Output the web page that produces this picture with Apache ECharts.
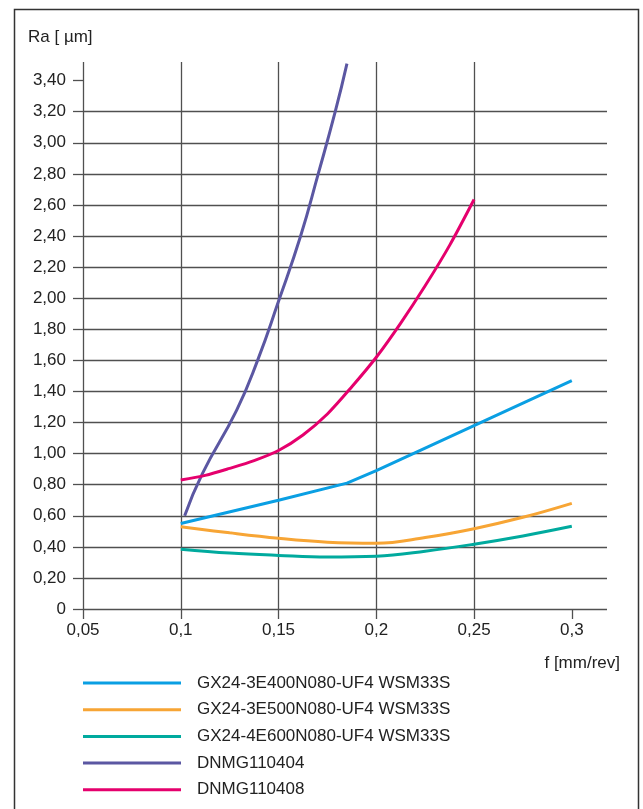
<!DOCTYPE html>
<html>
<head>
<meta charset="utf-8">
<script src="https://cdn.jsdelivr.net/npm/echarts@6/dist/echarts.min.js"></script>
<style>
  html, body { margin: 0; padding: 0; background: #fff; }
  #main { width: 643px; height: 809px; }
</style>
</head>
<body>
<div id="main"></div>
<script>
// tick values
var xTicks = [0.05, 0.1, 0.15, 0.2, 0.25, 0.3];
var yTicks = [0, 0.2, 0.4, 0.6, 0.8, 1.0, 1.2, 1.4, 1.6, 1.8, 2.0, 2.2, 2.4, 2.6, 2.8, 3.0, 3.2, 3.4];

var seriesNames = [
  'GX24-3E400N080-UF4 WSM33S',
  'GX24-3E500N080-UF4 WSM33S',
  'GX24-4E600N080-UF4 WSM33S',
  'DNMG110404',
  'DNMG110408'
];
var seriesColors = ['#0a9fe3', '#f7a535', '#00aa9e', '#5b57a2', '#e5006d'];

// [f, Ra]
var uf4E400 = [[0.1, 0.55], [0.15, 0.70], [0.185, 0.81], [0.2, 0.89], [0.25, 1.18], [0.3, 1.47]];
var uf4E500 = [[0.1, 0.53], [0.125, 0.49], [0.15, 0.455], [0.175, 0.43], [0.2, 0.423], [0.225, 0.46], [0.25, 0.517], [0.275, 0.59], [0.3, 0.68]];
var uf4E600 = [[0.1, 0.385], [0.125, 0.36], [0.15, 0.345], [0.175, 0.335], [0.2, 0.34], [0.225, 0.372], [0.25, 0.417], [0.275, 0.47], [0.3, 0.532]];
var dnmg0404 = [[0.102, 0.60], [0.111, 0.87], [0.1286, 1.28], [0.1393, 1.6], [0.15, 1.98], [0.1613, 2.4], [0.1703, 2.8], [0.179, 3.2], [0.185, 3.51]];
var dnmg0408 = [[0.1, 0.83], [0.1125, 0.86], [0.125, 0.905], [0.1375, 0.955], [0.15, 1.02], [0.1625, 1.12], [0.175, 1.255], [0.1875, 1.43], [0.2, 1.62], [0.2125, 1.84], [0.225, 2.08], [0.2375, 2.34], [0.25, 2.635]];

var allData = [uf4E400, uf4E500, uf4E600, dnmg0404, dnmg0408];
var smoothing = [false, 0.4, 0.4, 0.5, 0.3];

var font = 'Liberation Sans, Arial, sans-serif';
var gridColor = '#505050';

function fmt(v) {
  if (v === 0) return '0';
  return v.toFixed(2).replace('.', ',');
}
function fmtX(v) {
  return String(+v.toFixed(2)).replace('.', ',');
}

var chart = echarts.init(document.getElementById('main'), null, { renderer: 'canvas' });

chart.setOption({
  animation: false,
  backgroundColor: '#fff',
  textStyle: { fontFamily: font },
  graphic: [{
    type: 'rect',
    shape: { x: 14.5, y: 9.5, width: 624, height: 830 },
    style: { fill: null, stroke: '#333', lineWidth: 1.5 },
    silent: true
  }],
  title: [{
    text: 'Ra [ µm]',
    left: 23,
    top: 24,
    textStyle: { fontFamily: font, fontSize: 17, fontWeight: 'normal', color: '#222' }
  }, {
    text: 'f [mm/rev]',
    right: 18,
    top: 650,
    textStyle: { fontFamily: font, fontSize: 17, fontWeight: 'normal', color: '#222' }
  }],
  legend: {
    orient: 'vertical',
    left: 83,
    top: 674,
    height: 130,
    padding: 0,
    icon: 'rect',
    itemWidth: 98,
    itemHeight: 3,
    itemGap: 8.7,
    data: seriesNames,
    textStyle: { fontFamily: font, fontSize: 17, color: '#222', lineHeight: 18, padding: [0, 0, 0, 11] }
  },
  grid: { left: 83, right: 36, top: 62, bottom: 200 },
  xAxis: {
    type: 'value',
    min: 0.05,
    max: 0.318,
    interval: 0.05,
    axisLine: { show: false },
    axisTick: { show: true, length: 10, customValues: xTicks, lineStyle: { color: gridColor, width: 1.3 } },
    axisLabel: { customValues: xTicks, formatter: fmtX, margin: 13, fontSize: 17, color: '#222', fontFamily: font },
    splitLine: { show: true, showMaxLine: false, lineStyle: { color: gridColor, width: 1.3 } }
  },
  yAxis: {
    type: 'value',
    min: 0,
    max: 3.52,
    interval: 0.2,
    axisLine: { show: false },
    axisTick: { show: true, length: 10, customValues: yTicks, lineStyle: { color: gridColor, width: 1.3 } },
    axisLabel: { customValues: yTicks, formatter: fmt, margin: 17, fontSize: 17, color: '#222', fontFamily: font },
    splitLine: { show: true, showMaxLine: false, lineStyle: { color: gridColor, width: 1.3 } }
  },
  series: seriesNames.map(function (name, i) {
    return {
      name: name,
      type: 'line',
      data: allData[i],
      symbol: 'none',
      smooth: smoothing[i],
      color: seriesColors[i],
      lineStyle: { color: seriesColors[i], width: 3 },
      z: 3
    };
  })
});
</script>
</body>
</html>
